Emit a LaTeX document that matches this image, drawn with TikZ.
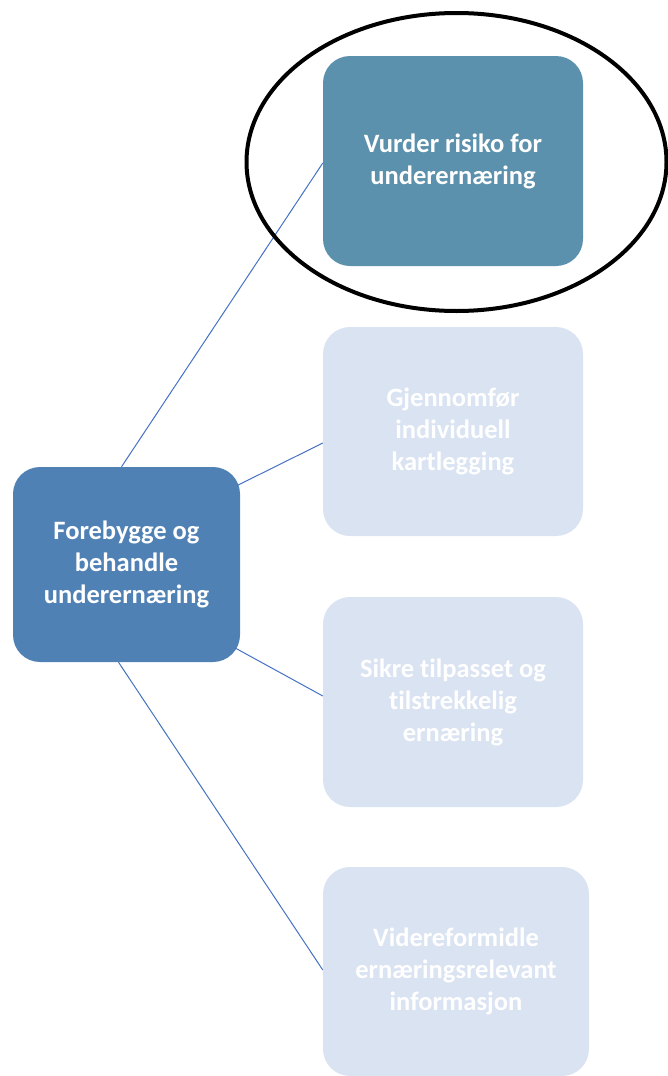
\documentclass[tikz,border=0pt]{standalone}
\usepackage{fontspec}
\setmainfont[Ligatures=NoCommon]{Carlito}
\usetikzlibrary{shapes.geometric}
\definecolor{rootblue}{RGB}{80,129,181}
\definecolor{tealblue}{RGB}{91,145,172}
\definecolor{paleblue}{RGB}{218,227,242}
\definecolor{linkblue}{RGB}{68,114,196}
\begin{document}
\begin{tikzpicture}[x=1pt,y=-1pt,
  box/.style={rectangle, rounded corners=27pt, inner sep=0pt, align=center,
    text=white, font=\fontsize{26.5}{32}\selectfont\bfseries},
  link/.style={draw=linkblue, line width=1pt}]
\useasboundingbox (0,0) rectangle (668,1076);
\node[box, fill=rootblue, minimum width=227pt, minimum height=195pt] (nid0) at (126.5,564.5){Forebygge og\\behandle\\underernæring};
\node[box, fill=tealblue, minimum width=260pt, minimum height=210pt] (nid1) at (453,161){Vurder risiko for\\underernæring};
\node[box, fill=paleblue, minimum width=260pt, minimum height=209pt] (nid2) at (453,431.5){Gjennomfør\\individuell\\kartlegging};
\node[box, fill=paleblue, minimum width=260pt, minimum height=210pt] (nid3) at (453,702){Sikre tilpasset og\\tilstrekkelig\\ernæring};
\node[box, fill=paleblue, minimum width=266pt, minimum height=209pt] (nid4) at (456,971.5){Videreformidle\\ernæringsrelevant\\informasjon};
\draw[link]([xshift=-5pt]nid0.north) -- ([yshift=-2pt]nid1.west);
\draw[link]([xshift=-3pt,yshift=79pt]nid0.east) -- ([yshift=-11.5pt]nid2.west);
\draw[link]([xshift=-5pt,yshift=-83.5pt]nid0.east) -- ([yshift=6pt]nid3.west);
\draw[link]([xshift=-8pt]nid0.south) -- ([yshift=1.5pt]nid4.west);
\node[ellipse, draw, line width=4pt, inner sep=0pt, minimum width=420pt, minimum height=298pt] (mark) at (456.5,162){};
\end{tikzpicture}
\end{document}
